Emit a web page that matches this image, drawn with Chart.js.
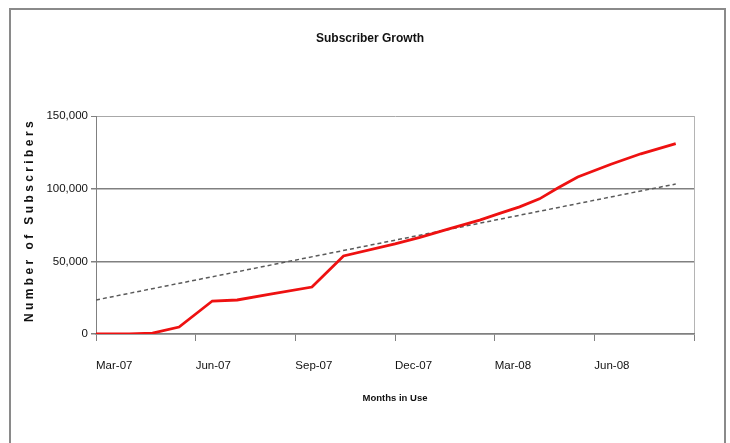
<!DOCTYPE html>
<html>
<head>
<meta charset="utf-8">
<script src="https://cdn.jsdelivr.net/npm/chart.js@4/dist/chart.umd.min.js"></script>
<style>
    html, body { margin: 0; padding: 0; background: #fff; overflow: hidden; }
    #wrap { position: relative; width: 730px; height: 443px; }
    #frame {
        position: absolute; left: 9px; top: 8px; width: 717px; height: 460px;
        border: 2px solid #8a8a8a; box-sizing: border-box; pointer-events: none;
    }
    canvas { position: absolute; left: 0; top: 0; }
</style>
</head>
<body>
<div id="wrap">
    <canvas id="chart" width="730" height="443"></canvas>
    <div id="frame"></div>
</div>
<script>
// months since Mar-07 and subscriber counts
const subMonths = [0, 1.0, 1.7, 2.5, 3.5, 4.25, 5.25, 6.5, 7.45, 9.0, 9.75, 10.65, 11.55, 12.15, 12.75, 13.35, 13.9, 14.5, 15.5, 16.4, 17.45];
const subCounts = [0, 0, 600, 4800, 22700, 23400, 27500, 32300, 53700, 62000, 66500, 72500, 78400, 83000, 87500, 93000, 100400, 108000, 116800, 124000, 131000];

// linear trend line end points
const trendMonths = [0, 17.45];
const trendCounts = [23400, 103200];

const tickLabels = ['Mar-07', 'Jun-07', 'Sep-07', 'Dec-07', 'Mar-08', 'Jun-08', ''];
const yTitle = 'Number of Subscribers';

const sans = "'Liberation Sans', Arial, sans-serif";

// y axis title has wide letter spacing, so draw it here
const yTitlePlugin = {
    id: 'yTitle',
    afterDraw(chart) {
        const ctx = chart.ctx;
        ctx.save();
        ctx.translate(30, 220);
        ctx.rotate(-Math.PI / 2);
        ctx.font = "bold 12px " + sans;
        ctx.letterSpacing = '3.4px';
        ctx.fillStyle = '#111';
        ctx.textAlign = 'center';
        ctx.textBaseline = 'middle';
        ctx.fillText(yTitle, 0, 0);
        ctx.restore();
    }
};

new Chart(document.getElementById('chart'), {
    type: 'line',
    data: {
        datasets: [
            {
                label: 'Subscribers',
                data: subMonths.map((m, i) => ({ x: m, y: subCounts[i] })),
                borderColor: '#ee1111',
                borderWidth: 2.8,
                pointRadius: 0,
                tension: 0,
                fill: false,
            },
            {
                label: 'Trend',
                data: trendMonths.map((m, i) => ({ x: m, y: trendCounts[i] })),
                borderColor: '#5a5a5a',
                borderWidth: 1.5,
                borderDash: [4, 3],
                pointRadius: 0,
                fill: false,
            }
        ]
    },
    options: {
        responsive: false,
        animation: false,
        layout: { padding: { top: 0, left: 46, right: 36, bottom: 20 } },
        plugins: {
            legend: { display: false },
            tooltip: { enabled: false },
            title: {
                display: true,
                text: 'Subscriber Growth',
                color: '#111',
                font: { family: sans, size: 12, weight: 'bold' },
                padding: { top: 31, bottom: 70.6 },
            },
        },
        scales: {
            x: {
                type: 'linear',
                min: 0,
                max: 18,
                afterFit: s => { s.height = 89; },
                border: { color: '#808080', width: 1.5 },
                grid: {
                    color: c => c.tick && c.tick.value === 18 ? '#b4b4b4' : 'rgba(0,0,0,0)',
                    tickColor: '#808080',
                    tickLength: 7,
                },
                ticks: {
                    stepSize: 3,
                    align: 'start',
                    autoSkip: false,
                    maxRotation: 0,
                    padding: 18,
                    color: '#111',
                    font: { family: sans, size: 11.5 },
                    callback: v => tickLabels[v / 3],
                },
                title: {
                    display: true,
                    text: 'Months in Use',
                    color: '#111',
                    font: { family: sans, size: 9.5, weight: 'bold' },
                    padding: { top: 0, bottom: 18.5 },
                },
            },
            y: {
                min: 0,
                max: 150000,
                afterFit: s => { s.width = 50; },
                border: { color: '#808080', width: 1 },
                grid: {
                    color: c => c.tick.value === 150000 ? '#a8a8a8' : '#808080',
                    lineWidth: c => c.tick.value === 150000 ? 1 : 1.5,
                    tickColor: '#808080',
                    tickLength: 5,
                },
                ticks: {
                    stepSize: 50000,
                    padding: 3,
                    color: '#111',
                    font: { family: sans, size: 11.5 },
                    callback: v => v.toLocaleString('en-US'),
                },
            },
        },
    },
    plugins: [yTitlePlugin]
});
</script>
</body>
</html>
